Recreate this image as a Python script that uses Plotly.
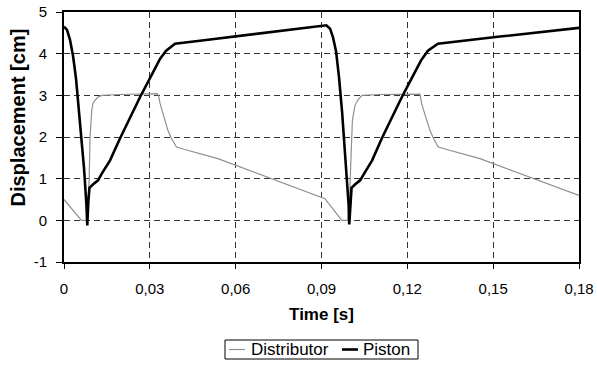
import plotly.graph_objects as go

# Piston displacement [cm] vs time [s]
piston_t = [0.0000, 0.00105, 0.0021, 0.00315, 0.0042, 0.0056, 0.0070, 0.00786, 0.00814, 0.0085,
            0.0089, 0.0101, 0.0119, 0.0132, 0.0161, 0.0196, 0.0231, 0.0266, 0.0301, 0.0322,
            0.0336, 0.0357, 0.0388, 0.0475, 0.0650, 0.0825, 0.0917,
            0.0930, 0.0940, 0.0951, 0.0961, 0.0972, 0.0986, 0.0995, 0.0997, 0.1001,
            0.1005, 0.1017, 0.1035, 0.1049, 0.1077, 0.1111, 0.1146, 0.1181, 0.1216, 0.1237,
            0.1248, 0.1272, 0.1307, 0.1524, 0.1800]
piston_y = [4.65, 4.57, 4.33, 3.95, 3.40, 2.40, 1.25, 0.35, -0.12, 0.45,
            0.78, 0.86, 0.96, 1.12, 1.44, 1.97, 2.47, 2.96, 3.42, 3.70,
            3.88, 4.07, 4.24, 4.31, 4.46, 4.60, 4.68,
            4.60, 4.40, 4.05, 3.45, 2.60, 1.30, 0.35, -0.10, 0.45,
            0.78, 0.86, 0.96, 1.12, 1.44, 1.97, 2.47, 2.96, 3.42, 3.70,
            3.84, 4.07, 4.24, 4.41, 4.62]

# Distributor displacement [cm] vs time [s]
dist_t = [0.0000, 0.0061, 0.0079, 0.0085, 0.0088, 0.0091, 0.0097, 0.0101, 0.0108, 0.0119,
          0.0133, 0.0196, 0.0325, 0.0330, 0.0336, 0.0353, 0.0363, 0.0375, 0.0393, 0.0422,
          0.0468, 0.0538, 0.0912,
          0.0971, 0.0992, 0.0998, 0.1002, 0.1008, 0.1017, 0.1028, 0.1042, 0.1104, 0.1244,
          0.1250, 0.1268, 0.1279, 0.1291, 0.1308, 0.1338, 0.1384, 0.1454, 0.1800]
dist_y = [0.50, 0.00, 0.00, 0.50, 1.00, 2.00, 2.64, 2.80, 2.88, 2.96,
          3.00, 3.02, 3.04, 3.00, 2.80, 2.40, 2.16, 1.97, 1.76, 1.70,
          1.61, 1.48, 0.52,
          0.00, 0.00, 0.50, 1.30, 2.40, 2.76, 2.90, 3.00, 3.02, 3.03,
          2.80, 2.40, 2.16, 1.97, 1.76, 1.70, 1.61, 1.48, 0.60]

series_names = ["Distributor", "Piston"]
series_colors = ["#8f8f8f", "#000000"]
series_widths = [1.2, 2.6]

x_ticks = [0, 0.03, 0.06, 0.09, 0.12, 0.15, 0.18]
x_labels = ["0", "0,03", "0,06", "0,09", "0,12", "0,15", "0,18"]
y_ticks = [-1, 0, 1, 2, 3, 4, 5]
y_labels = ["-1", "0", "1", "2", "3", "4", "5"]

W, H = 597, 367
ML, MR, MT, MB = 64, 18, 12, 105
PW, PH = W - ML - MR, H - MT - MB


def px(x):  # pixel -> paper x
    return (x - ML) / PW


def py(y):  # pixel -> paper y
    return (H - MB - y) / PH


fig = go.Figure()
for xs, ys, name, col, wd in [(dist_t, dist_y, series_names[0], series_colors[0], series_widths[0]),
                              (piston_t, piston_y, series_names[1], series_colors[1], series_widths[1])]:
    fig.add_trace(go.Scatter(x=xs, y=ys, mode="lines", name=name,
                             line=dict(color=col, width=wd), showlegend=False))

font = "Liberation Sans"
grid = dict(showgrid=True, gridcolor="#333333", gridwidth=1, griddash="6px,4px", zeroline=False)

# Manual legend (box, line samples, labels)
shapes = [
    dict(type="rect", xref="paper", yref="paper", x0=px(225), x1=px(418), y0=py(340), y1=py(359),
         line=dict(color="black", width=1), fillcolor="white"),
    dict(type="line", xref="paper", yref="paper", x0=px(229), x1=px(245), y0=py(349.5), y1=py(349.5),
         line=dict(color=series_colors[0], width=series_widths[0])),
    dict(type="line", xref="paper", yref="paper", x0=px(342), x1=px(358), y0=py(349.5), y1=py(349.5),
         line=dict(color=series_colors[1], width=series_widths[1])),
]
annotations = [
    dict(text="<b>Displacement [cm]</b>", textangle=-90,
         xref="paper", yref="paper", x=px(17.5), y=py(118),
         xanchor="center", yanchor="middle", showarrow=False,
         font=dict(family=font, size=20, color="black")),
    dict(text=series_names[0], xref="paper", yref="paper", x=px(249), y=py(349.5),
         xanchor="left", yanchor="middle", showarrow=False,
         font=dict(family=font, size=17, color="black")),
    dict(text=series_names[1], xref="paper", yref="paper", x=px(361), y=py(349.5),
         xanchor="left", yanchor="middle", showarrow=False,
         font=dict(family=font, size=17, color="black")),
]

fig.update_layout(
    width=W, height=H,
    margin=dict(l=ML, r=MR, t=MT, b=MB, autoexpand=False),
    paper_bgcolor="white", plot_bgcolor="white",
    font=dict(family=font, size=15, color="black"),
    showlegend=False,
    xaxis=dict(range=[0, 0.18], tickvals=x_ticks, ticktext=x_labels, automargin=False,
               showline=True, linecolor="black", linewidth=2, mirror=True,
               ticks="outside", ticklen=5, tickcolor="black", tickwidth=1,
               ticklabelstandoff=7, tickfont=dict(size=15), ticklabeloverflow="allow",
               title=dict(text="<b>Time [s]</b>", font=dict(size=17), standoff=12),
               **grid),
    yaxis=dict(range=[-1, 5], tickvals=y_ticks, ticktext=y_labels, automargin=False,
               showline=True, linecolor="black", linewidth=2, mirror=True,
               ticks="outside", ticklen=6, tickcolor="black", tickwidth=1,
               ticklabelstandoff=6, tickfont=dict(size=15),
               **grid),
    shapes=shapes,
    annotations=annotations,
)

fig.write_html("out.html", config={"displayModeBar": False},
               post_script="document.body.style.margin='0';document.body.style.padding='0';")
